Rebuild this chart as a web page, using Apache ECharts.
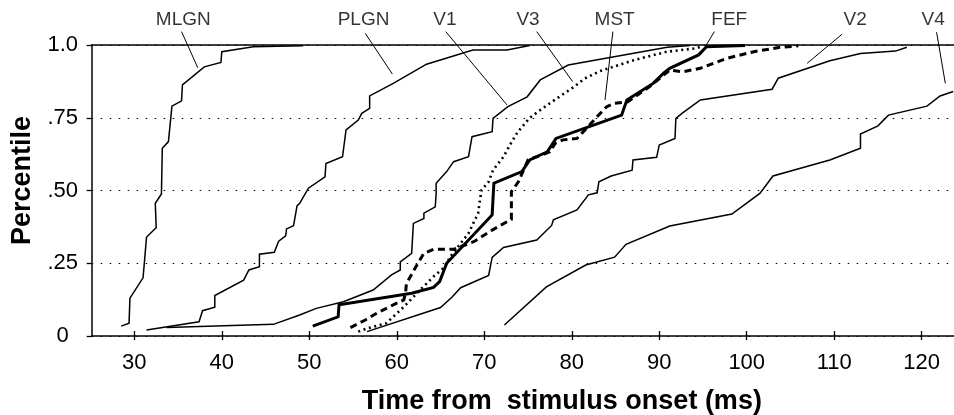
<!DOCTYPE html>
<html>
<head>
<meta charset="utf-8">
<script src="https://cdn.jsdelivr.net/npm/echarts@6/dist/echarts.min.js"></script>
<style>
html,body{margin:0;padding:0;background:#fff;}
#chart{width:954px;height:415px;}
</style>
</head>
<body>
<div id="chart"></div>
<script>
// ---- data (time in ms, cumulative fraction) ----
const xTicks = [30, 40, 50, 60, 70, 80, 90, 100, 110, 120];
const yTicks = [0, 0.25, 0.5, 0.75, 1];
const yTickLabels = ['0', '.25', '.50', '.75', '1.0'];

const MLGN = [[28.5,0.034],[29.4,0.044],[29.5,0.13],[31.0,0.20],[31.2,0.204],[31.4,0.34],[32.5,0.372],[32.4,0.456],[33.1,0.488],[33.2,0.645],[33.9,0.668],[34.3,0.79],[35.4,0.808],[35.5,0.863],[38.0,0.925],[38.1,0.93],[39.9,0.94],[40.0,0.977],[43.6,0.994],[49.3,0.997]];
const PLGN = [[31.4,0.021],[37.4,0.049],[37.8,0.087],[39.2,0.099],[39.2,0.139],[42.5,0.192],[43.1,0.227],[44.3,0.238],[44.3,0.281],[46.0,0.288],[46.5,0.326],[47.3,0.344],[47.4,0.368],[48.2,0.379],[48.6,0.447],[48.9,0.456],[49.9,0.508],[51.8,0.547],[51.9,0.593],[53.8,0.616],[54.2,0.708],[55.6,0.742],[56.0,0.765],[56.9,0.782],[56.9,0.825],[59.6,0.868],[63.4,0.934],[68.7,0.983],[72.6,0.983],[75.2,0.998]];
const V1 = [[33.7,0.029],[45.9,0.040],[48.9,0.072],[50.8,0.095],[53.9,0.118],[57.3,0.158],[59.4,0.21],[60.4,0.227],[60.4,0.255],[61.7,0.284],[61.9,0.387],[63.1,0.404],[63.1,0.422],[64.4,0.444],[64.5,0.49],[64.5,0.525],[65.7,0.565],[66.5,0.599],[68.2,0.616],[68.6,0.685],[70.9,0.702],[71.0,0.748],[72.7,0.788],[74.9,0.822],[76.4,0.880],[79.6,0.931],[90.9,0.992],[93.5,0.998]];
const V3 = [[55.6,0.015],[56.5,0.025],[58.8,0.044],[60.8,0.10],[62.1,0.141],[64.2,0.204],[65.5,0.238],[66.1,0.272],[68.2,0.353],[69.3,0.422],[69.5,0.467],[69.7,0.502],[70.5,0.53],[71.0,0.570],[72.2,0.616],[73.0,0.66],[73.8,0.70],[75.2,0.75],[77.5,0.80],[80.2,0.855],[81.5,0.885],[83.2,0.91],[87.1,0.948],[90.9,0.977],[94.3,0.989],[94.7,0.994]];
const MST = [[54.7,0.029],[56.4,0.055],[57.7,0.078],[59.6,0.107],[60.8,0.124],[61.0,0.147],[61.1,0.18],[62.3,0.244],[63.1,0.284],[64.2,0.298],[66.5,0.298],[68.8,0.324],[70.9,0.364],[73.1,0.401],[73.1,0.496],[73.9,0.530],[75.0,0.605],[77.5,0.633],[78.1,0.662],[79.0,0.674],[80.6,0.679],[81.7,0.714],[82.9,0.754],[84.0,0.788],[84.9,0.8],[86.4,0.805],[88.9,0.857],[91.2,0.914],[92.7,0.908],[94.7,0.920],[97.7,0.954],[100.8,0.977],[103.8,0.992],[105.9,0.997]];
const FEF = [[50.4,0.034],[53.3,0.066],[53.4,0.107],[61.7,0.147],[64.2,0.167],[64.9,0.187],[65.7,0.25],[70.9,0.416],[71.1,0.525],[74.3,0.565],[75.2,0.605],[76.4,0.622],[77.2,0.633],[78.2,0.679],[85.7,0.759],[86.3,0.811],[89.3,0.868],[90.5,0.903],[91.2,0.920],[94.5,0.966],[95.4,0.994],[99.8,0.998]];
const V2 = [[56.6,0.015],[65.0,0.098],[66.3,0.133],[67.3,0.166],[70.5,0.208],[70.9,0.27],[72.2,0.304],[76.0,0.330],[77.7,0.38],[77.9,0.399],[80.6,0.433],[81.9,0.485],[82.9,0.492],[83.1,0.530],[84.5,0.55],[86.9,0.570],[87.0,0.605],[89.7,0.614],[90.0,0.656],[91.8,0.679],[91.9,0.748],[92.6,0.765],[94.7,0.811],[102.9,0.848],[103.6,0.886],[109.5,0.946],[113.0,0.971],[117.0,0.979],[118.3,0.992]];
const V4 = [[72.3,0.038],[77.1,0.169],[81.6,0.244],[84.9,0.271],[86.2,0.315],[91.2,0.378],[98.3,0.419],[101.5,0.490],[103.0,0.55],[109.5,0.605],[113.0,0.645],[113.0,0.694],[115.0,0.722],[116.2,0.759],[120.6,0.790],[122.1,0.825],[123.6,0.840]];

// callout annotations (data coordinates): label text position, leader start, leader end
const calloutNames = ['MLGN', 'PLGN', 'V1', 'V3', 'MST', 'FEF', 'V2', 'V4'];
const calloutTextAt = [[35.6,1.088],[56.2,1.088],[65.5,1.088],[75.0,1.088],[84.9,1.088],[98.0,1.088],[112.4,1.088],[121.3,1.088]];
const calloutFrom = [[35.4,1.046],[56.4,1.040],[65.6,1.046],[76.0,1.046],[84.7,1.046],[96.3,1.046],[110.9,1.037],[121.7,1.044]];
const calloutTo = [[37.25,0.922],[59.5,0.900],[72.6,0.794],[80.1,0.874],[83.8,0.811],[94.7,0.966],[106.9,0.937],[122.7,0.868]];

const xMin = 25.13, xMax = 123.69;

// ---- styling ----
const FONT = "'Liberation Sans', Arial, Helvetica, sans-serif";
const curves = [
  { name: 'MLGN', data: MLGN, width: 1.5, type: 'solid' },
  { name: 'PLGN', data: PLGN, width: 1.5, type: 'solid' },
  { name: 'V1', data: V1, width: 1.5, type: 'solid' },
  { name: 'V3', data: V3, width: 2.6, type: [2, 3.6] },
  { name: 'MST', data: MST, width: 3, type: [7, 4.5] },
  { name: 'FEF', data: FEF, width: 3, type: 'solid' },
  { name: 'V2', data: V2, width: 1.5, type: 'solid' },
  { name: 'V4', data: V4, width: 1.5, type: 'solid' }
];

const series = curves.map(c => ({
  name: c.name,
  type: 'line',
  data: c.data,
  symbol: 'none',
  clip: false,
  silent: true,
  lineStyle: { color: '#000', width: c.width, type: c.type, cap: 'butt', join: 'miter' },
  z: 3
}));

calloutNames.forEach((n, i) => {
  series.push({
    name: n + '-leader',
    type: 'line',
    data: [calloutFrom[i], calloutTo[i]],
    symbol: 'none',
    clip: false,
    silent: true,
    lineStyle: { color: '#000', width: 1 },
    z: 2
  });
});

series.push({
  name: 'callout-labels',
  type: 'scatter',
  data: calloutNames.map((n, i) => ({ value: calloutTextAt[i], name: n })),
  symbol: 'circle',
  symbolSize: 1,
  clip: false,
  silent: true,
  itemStyle: { color: 'rgba(0,0,0,0)' },
  label: {
    show: true,
    position: 'inside',
    formatter: p => p.name,
    color: '#000',
    textBorderWidth: 0,
    fontFamily: FONT,
    fontSize: 19
  },
  z: 4
});

const chart = echarts.init(document.getElementById('chart'), null, { renderer: 'canvas' });
chart.setOption({
  animation: false,
  backgroundColor: '#fff',
  grid: { left: 91.7, right: 0, top: 45, bottom: 79, containLabel: false, outerBoundsMode: 'none' },
  xAxis: [
    {
      type: 'value', min: xMin, max: xMax, position: 'bottom',
      axisLine: { show: true, lineStyle: { color: '#000', width: 1.5 } },
      axisTick: { show: true, inside: false, length: 4, customValues: xTicks, lineStyle: { color: '#000', width: 1.3 } },
      axisLabel: { show: true, customValues: xTicks, color: '#000', fontFamily: FONT, fontSize: 22, margin: 16 },
      splitLine: { show: false },
      name: 'Time from  stimulus onset (ms)',
      nameLocation: 'middle',
      nameGap: 52,
      nameTextStyle: { color: '#000', fontFamily: FONT, fontSize: 27, fontWeight: 'bold', padding: [0, 0, 0, 78] }
    },
    {
      type: 'value', min: xMin, max: xMax, position: 'bottom',
      axisLine: { show: false },
      axisTick: { show: true, inside: true, length: 5, customValues: xTicks, lineStyle: { color: '#000', width: 1.3 } },
      axisLabel: { show: false },
      splitLine: { show: false }
    },
    {
      type: 'value', min: xMin, max: xMax, position: 'top',
      axisLine: { show: true, lineStyle: { color: '#000', width: 1.5 } },
      axisTick: { show: false },
      axisLabel: { show: false },
      splitLine: { show: false }
    }
  ],
  yAxis: {
    type: 'value', min: 0, max: 1, interval: 0.25,
    axisLine: { show: true, lineStyle: { color: '#000', width: 1.5 } },
    axisTick: { show: true, inside: false, length: 5, lineStyle: { color: '#000', width: 1.3 } },
    axisLabel: {
      color: '#000', fontFamily: FONT, fontSize: 22, margin: 29, align: 'center',
      formatter: v => yTickLabels[yTicks.findIndex(t => Math.abs(t - v) < 1e-6)]
    },
    splitLine: { show: true, lineStyle: { color: '#000', width: 1.2, type: [1.5, 7.5] } },
    name: 'Percentile',
    nameLocation: 'middle',
    nameRotate: 90,
    nameGap: 56,
    nameTextStyle: { color: '#000', fontFamily: FONT, fontSize: 27, fontWeight: 'bold', padding: [0, 0, 0, 20] }
  },
  series: series
});
</script>
</body>
</html>
